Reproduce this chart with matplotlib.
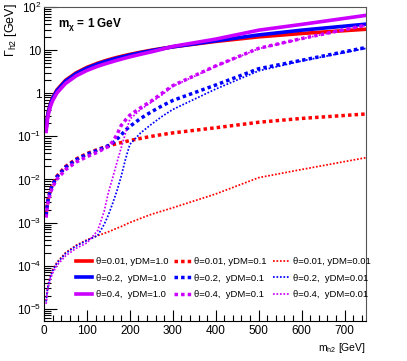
import matplotlib
matplotlib.use("Agg")
import matplotlib.pyplot as plt
from matplotlib.ticker import FixedLocator, FuncFormatter, LogLocator, MultipleLocator, NullFormatter
import numpy as np

plt.rcParams['font.family'] = ['Liberation Sans', 'DejaVu Sans']
plt.rcParams['mathtext.fontset'] = 'custom'
plt.rcParams['mathtext.rm'] = 'Liberation Sans'
plt.rcParams['mathtext.it'] = 'Liberation Sans:italic'
plt.rcParams['mathtext.bf'] = 'Liberation Sans:bold'

# ---------------- data ----------------
mass = [5, 7.5, 10, 15, 20, 30, 50, 75, 100, 125, 140, 150, 160, 170, 180, 190,
        200, 225, 250, 275, 300, 400, 500, 600, 750]

# theta = 0.01
red_y1 = [0.153, 0.267, 0.374, 0.581, 0.788, 1.19, 1.99, 2.98, 3.98, 4.97, 5.57, 5.97,
          6.37, 6.76, 7.16, 7.56, 7.96, 8.95, 9.95, 10.9, 11.9, 15.9, 20.3, 24.3, 30.5]
red_y01 = [0.00153, 0.00267, 0.00374, 0.00581, 0.00788, 0.0119, 0.0199, 0.0298, 0.0398,
           0.0497, 0.0557, 0.0597, 0.0637, 0.0677, 0.0717, 0.0757, 0.0797, 0.0896,
           0.0999, 0.110, 0.120, 0.158, 0.212, 0.26, 0.33]
red_y001 = [1.53e-5, 2.67e-5, 3.74e-5, 5.81e-5, 7.88e-5, 1.19e-4, 1.99e-4, 2.98e-4,
            3.98e-4, 4.97e-4, 5.6e-4, 6.1e-4, 6.7e-4, 7.4e-4, 8.1e-4, 9.0e-4, 1.0e-3,
            1.25e-3, 1.55e-3, 1.85e-3, 2.2e-3, 4.6e-3, 0.011, 0.017, 0.032]

# theta = 0.2
blue_y1 = [0.147, 0.256, 0.359, 0.558, 0.757, 1.14, 1.91, 2.86, 3.82, 4.78, 5.35, 5.73,
           6.12, 6.51, 6.90, 7.28, 7.70, 8.70, 9.70, 10.8, 11.9, 16.4, 22.5, 29.0, 40.0]
blue_y01 = [0.00147, 0.00256, 0.00359, 0.00558, 0.00757, 0.0114, 0.0191, 0.0287, 0.0383,
            0.048, 0.055, 0.061, 0.070, 0.086, 0.108, 0.14, 0.17, 0.26, 0.37, 0.51,
            0.68, 1.55, 3.7, 5.8, 11.5]
blue_y001 = [1.47e-5, 2.56e-5, 3.59e-5, 5.58e-5, 7.57e-5, 1.14e-4, 1.91e-4, 2.87e-4,
             3.83e-4, 5.0e-4, 9.0e-4, 1.5e-3, 2.8e-3, 5.5e-3, 0.012, 0.03, 0.065, 0.12,
             0.19, 0.29, 0.42, 1.25, 3.3, 5.6, 11.0]

# theta = 0.4
mag_y1 = [0.130, 0.226, 0.317, 0.493, 0.668, 1.01, 1.68, 2.53, 3.37, 4.22, 4.72, 5.06,
          5.41, 5.80, 6.17, 6.56, 6.97, 8.0, 9.1, 10.5, 12.2, 18.0, 29.0, 39.5, 64.0]
mag_y01 = [0.0013, 0.00226, 0.00317, 0.00493, 0.00668, 0.0101, 0.0168, 0.0253, 0.0337,
           0.043, 0.052, 0.058, 0.075, 0.11, 0.18, 0.24, 0.31, 0.46, 0.66, 1.0, 1.5,
           4.3, 11.0, 18.5, 38.0]
mag_y001 = [1.3e-5, 2.26e-5, 3.17e-5, 4.93e-5, 6.68e-5, 1.01e-4, 1.68e-4, 2.53e-4,
            3.37e-4, 6.5e-4, 1.8e-3, 5.0e-3, 0.011, 0.025, 0.055, 0.12, 0.25, 0.42,
            0.62, 0.92, 1.45, 4.2, 10.8, 18.3, 37.5]

series = [
    # (values, color, style key, label)
    (red_y1, '#ff0000', 'solid', 'θ=0.01, yDM=1.0'),
    (blue_y1, '#0000ff', 'solid', 'θ=0.2,  yDM=1.0'),
    (mag_y1, '#cc00ff', 'solid', 'θ=0.4,  yDM=1.0'),
    (red_y01, '#ff0000', 'dot1', 'θ=0.01, yDM=0.1'),
    (blue_y01, '#0000ff', 'dot1', 'θ=0.2,  yDM=0.1'),
    (mag_y01, '#cc00ff', 'dot1', 'θ=0.4,  yDM=0.1'),
    (red_y001, '#ff0000', 'dot2', 'θ=0.01, yDM=0.01'),
    (blue_y001, '#0000ff', 'dot2', 'θ=0.2,  yDM=0.01'),
    (mag_y001, '#cc00ff', 'dot2', 'θ=0.4,  yDM=0.01'),
]

styles = {
    'solid': dict(linestyle='-', linewidth=2.6),
    'dot1': dict(linestyle=(0, (1, 0.9)), linewidth=2.5),
    'dot2': dict(linestyle=(0, (1, 1)), linewidth=1.25),
}

fig = plt.figure(figsize=(4.07, 3.61), dpi=100)
ax = fig.add_axes([44 / 407, 1 - 321 / 361, (366 - 44) / 407, (321 - 7) / 361])

handles = []
for vals, col, st, lab in series:
    h, = ax.plot(mass, vals, color=col, label=lab, **styles[st])
    handles.append(h)

ax.set_yscale('log')
ax.set_xlim(0, 750)
ax.set_ylim(5.2e-6, 100)

ax.xaxis.set_major_locator(MultipleLocator(100))
ax.xaxis.set_minor_locator(MultipleLocator(20))
ax.yaxis.set_major_locator(FixedLocator([1e-5, 1e-4, 1e-3, 1e-2, 1e-1, 1, 10, 100]))
ax.yaxis.set_minor_locator(LogLocator(base=10, subs=np.arange(2, 10), numticks=20))
ax.yaxis.set_minor_formatter(NullFormatter())


def yfmt(v, pos):
    e = int(round(np.log10(v)))
    if e == 0:
        return '1'
    if e == 1:
        return '10'
    return r'$\mathregular{10^{%d}}$' % e


ax.yaxis.set_major_formatter(FuncFormatter(yfmt))
ax.tick_params(which='both', direction='in', top=False, right=False, labelsize=8.5)
ax.tick_params(which='major', axis='y', length=9, width=0.8, pad=2)
ax.tick_params(which='minor', axis='y', length=5, width=0.8)
ax.tick_params(which='major', axis='x', length=8, width=0.8, pad=3)
ax.tick_params(which='minor', axis='x', length=4, width=0.8)
for s in ax.spines.values():
    s.set_linewidth(0.8)
for s in ['top', 'right']:
    ax.spines[s].set_color('#555555')

fig.text(11 / 407, 1 - 3 / 361, r'$\mathregular{\Gamma_{h2}}$ [GeV]', rotation=90,
         ha='center', va='top', fontsize=9)
fig.text(366 / 407, 1 - 348 / 361, r'm$_{\mathregular{h2}}$ [GeV]', ha='right',
         va='center', fontsize=7.5)
ax.text(58 / 407, 1 - 25 / 361, r'$\mathbf{m_{\chi}}$ = 1 GeV', transform=fig.transFigure,
        ha='left', va='center', fontsize=8.5, fontweight='bold')

leg = ax.legend(handles=handles, ncol=3, frameon=False, fontsize=6.8,
                loc='upper left', bbox_to_anchor=(76 / 407, 1 - 257 / 361),
                bbox_transform=fig.transFigure, handlelength=1.7, handletextpad=0.4,
                columnspacing=0.65, labelspacing=0.8, borderpad=0, borderaxespad=0)

fig.savefig('out.png', dpi=100)
